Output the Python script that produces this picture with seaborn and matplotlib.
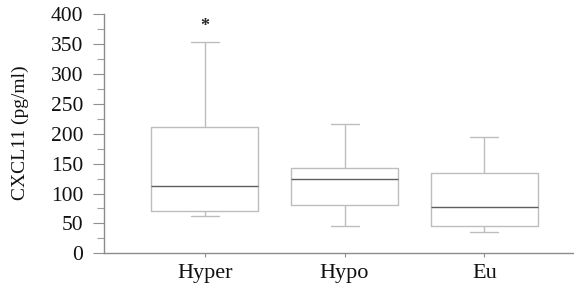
import matplotlib
matplotlib.use("Agg")
import matplotlib.pyplot as plt
import seaborn as sns
import pandas as pd
from matplotlib.ticker import MultipleLocator

# Five-number summaries (min, Q1, median, Q3, max)
categories = ["Hyper", "Hypo", "Eu"]
hyper_vals = [62, 71, 113, 212, 354]
hypo_vals = [45, 81, 125, 143, 216]
eu_vals = [35, 45, 78, 134, 195]
yticks = [0, 50, 100, 150, 200, 250, 300, 350, 400]
star_label = "*"
star_y = 380

df = pd.DataFrame({
    "group": [categories[0]] * len(hyper_vals) + [categories[1]] * len(hypo_vals) + [categories[2]] * len(eu_vals),
    "value": hyper_vals + hypo_vals + eu_vals,
})

sns.set_style("white")
plt.rcParams["font.family"] = ["Liberation Serif", "DejaVu Serif"]

fig = plt.figure(figsize=(5.74, 2.90), dpi=100)
ax = fig.add_axes([0.181, 0.1266, 0.819, 0.824])

sns.boxplot(data=df, x="group", y="value", order=categories, ax=ax,
            fill=False, width=0.76, whis=(0, 100), color="#bdbdbd",
            linewidth=1.0, capwidths=0.2,
            medianprops={"color": "#5e5e5e", "linewidth": 1.0},
            showfliers=False)

ax.set_xlim(-0.72, 2.64)
ax.set_ylim(0, 400)
ax.set_yticks(yticks)
ax.yaxis.set_minor_locator(MultipleLocator(25))
ax.tick_params(axis="y", which="major", left=True, length=8, width=0.8,
               color="#909090", labelsize=15.5, pad=7, labelcolor="#111111")
ax.tick_params(axis="y", which="minor", left=True, length=5, width=0.8, color="#a0a0a0")
ax.tick_params(axis="x", which="major", bottom=True, length=3, width=0.8,
               color="#909090", labelsize=16, pad=5, labelcolor="#111111")
ax.set_xlabel("")
ax.set_ylabel("CXCL11 (pg/ml)", fontsize=14, color="#111111")
ax.yaxis.set_label_coords(-0.160, 0.505)

for s in ["top", "right"]:
    ax.spines[s].set_visible(False)
for s in ["left", "bottom"]:
    ax.spines[s].set_color("#8c8c8c")
    ax.spines[s].set_linewidth(1.0)

ax.text(0, star_y, star_label, ha="center", va="center", fontsize=13, fontweight="bold")

fig.savefig("out.png", dpi=100)
